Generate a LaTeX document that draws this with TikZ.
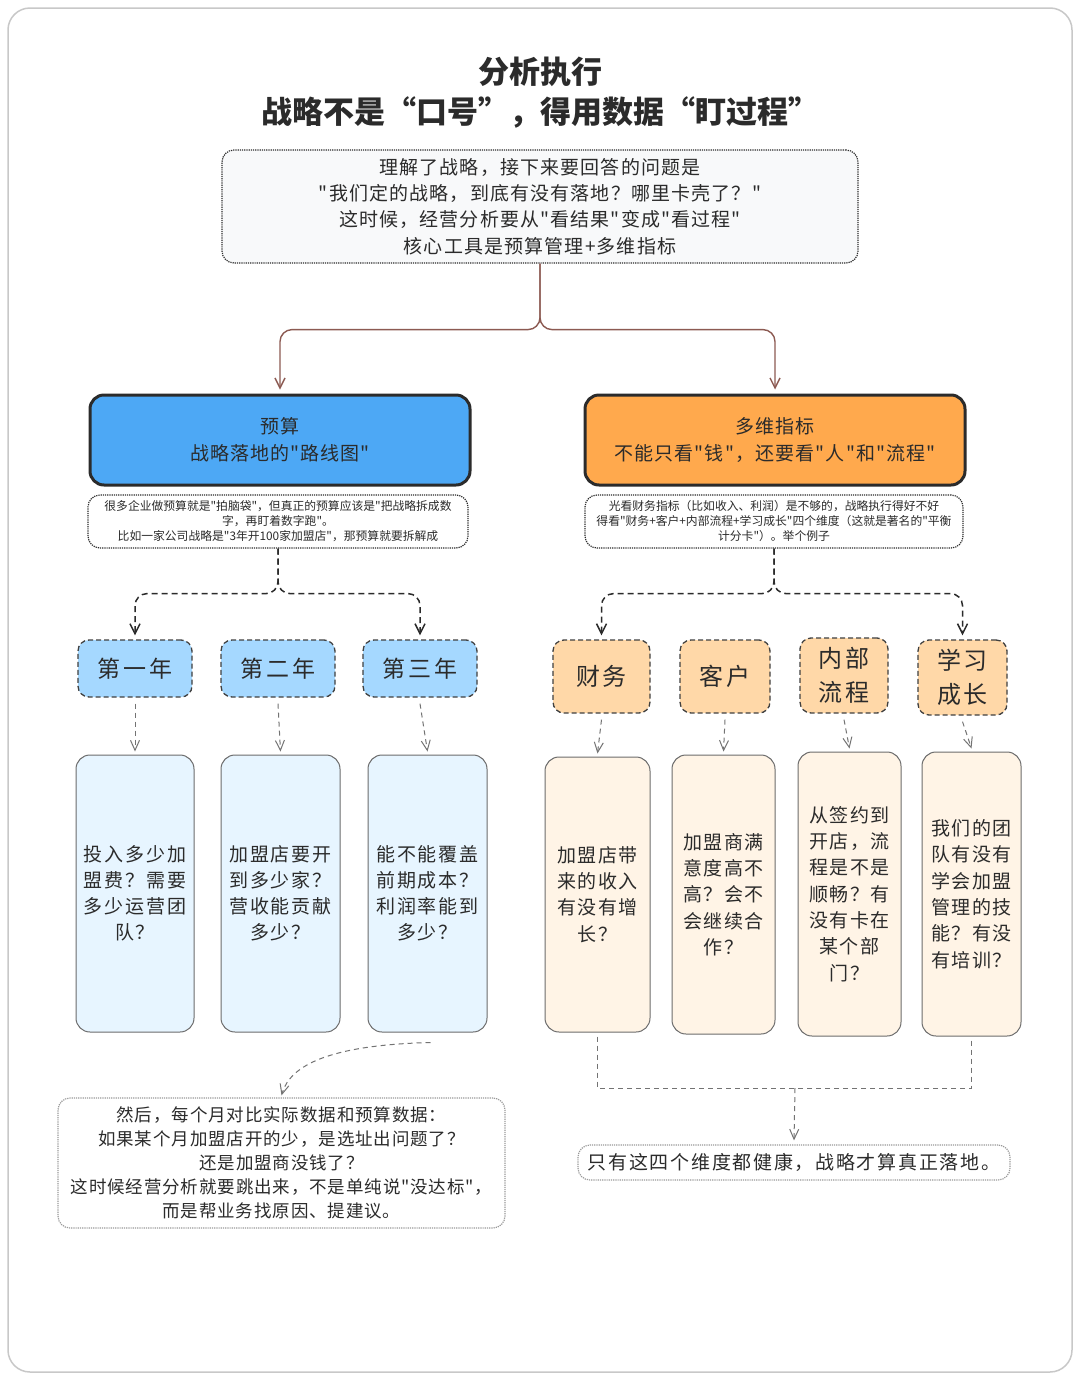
\documentclass[tikz,border=0pt]{standalone}
\usepackage{fontspec}
\newfontfamily\cjk{Noto Sans CJK SC}
\usetikzlibrary{arrows.meta,calc}
\definecolor{ink}{HTML}{2B2B2B}
\definecolor{brownc}{HTML}{8C5A52}
\definecolor{blueF}{HTML}{4DA8F5}
\definecolor{orangeF}{HTML}{FFA94D}
\definecolor{yearF}{HTML}{A5D8FF}
\definecolor{dimF}{HTML}{FFD8A8}
\definecolor{tallB}{HTML}{E7F5FF}
\definecolor{tallO}{HTML}{FFF4E6}
\definecolor{paleF}{HTML}{F8F9FA}
\definecolor{frameC}{HTML}{C8C8C8}
\newcommand\myfs[2]{\cjk\fontsize{#1}{#2}\selectfont}
\tikzset{
  txt/.style={text=ink, align=center, inner sep=0pt},
  dotbox/.style={txt, draw=ink, densely dotted, line width=1.2pt, rounded corners=12pt},
  bigbox/.style={txt, draw=ink, line width=3pt, rounded corners=14pt},
  catbox/.style={txt, draw=ink!90, dashed, dash pattern=on 5pt off 3pt, line width=1.3pt, rounded corners=11pt},
  tallbox/.style={txt, draw=gray!85!black, line width=1pt, rounded corners=14pt},
  brownarrow/.style={draw=brownc, line width=1.4pt, rounded corners=12pt, -{Straight Barb[length=10pt,width=10pt]}},
  dasharrow/.style={draw=ink, dash pattern=on 6pt off 4pt, line width=1.5pt, rounded corners=12pt, -{Straight Barb[length=10pt,width=10pt]}},
  thindash/.style={draw=gray!90!black, dash pattern=on 5pt off 4pt, line width=1pt, -{Straight Barb[length=10pt,width=9pt]}},
  plaindash/.style={draw=gray!90!black, dash pattern=on 5pt off 4pt, line width=1pt},
}
\begin{document}
\begin{tikzpicture}[x=1pt,y=-1pt]
\useasboundingbox (0,0) rectangle (1080,1379);
\fill[white] (0,0) rectangle (1080,1379);
\draw[frameC, line width=1.5pt, rounded corners=22pt] (8,8) rectangle (1072,1372);

% title
\node[txt, font=\myfs{31}{40}\bfseries] (title) at (540,93) {分析执行\\战略不是“口号”，得用数据“盯过程”};

% top box
\node[dotbox, fill=paleF, minimum width=636pt, minimum height=113pt, font=\myfs{19}{26.3}\addfontfeature{LetterSpace=6}] (top) at (540,206.5)
 {理解了战略，接下来要回答的问题是\\"我们定的战略，到底有没有落地？哪里卡壳了？"\\这时候，经营分析要从"看结果"变成"看过程"\\核心工具是预算管理+多维指标};

% main boxes
\node[bigbox, fill=blueF, minimum width=380pt, minimum height=90pt, font=\myfs{19}{27}\addfontfeature{LetterSpace=5}] (budget) at (280,440)
 {预算\\战略落地的"路线图"};
\node[bigbox, fill=orangeF, minimum width=380pt, minimum height=90pt, font=\myfs{19}{27}\addfontfeature{LetterSpace=6}] (metric) at (775,440)
 {多维指标\\不能只看"钱"，还要看"人"和"流程"};

% notes
\node[dotbox, fill=white, minimum width=380pt, minimum height=53pt, font=\myfs{11.8}{15}] (noteL) at (278,521.5)
 {很多企业做预算就是"拍脑袋"，但真正的预算应该是"把战略拆成数\\字，再盯着数字跑"。\\比如一家公司战略是"3年开100家加盟店"，那预算就要拆解成};
\node[dotbox, fill=white, minimum width=378pt, minimum height=53pt, font=\myfs{11.8}{15}] (noteR) at (774,521.5)
 {光看财务指标（比如收入、利润）是不够的，战略执行得好不好\\得看"财务+客户+内部流程+学习成长"四个维度（这就是著名的"平衡\\计分卡"）。举个例子};

% year boxes
\foreach \n/\x/\t in {y1/135/第一年, y2/278/第二年, y3/420/第三年}{
  \node[catbox, fill=yearF, minimum width=114pt, minimum height=57pt, font=\myfs{23}{30}\addfontfeature{LetterSpace=15}] (\n) at (\x,668.5) {\t};
}

% dimension boxes
\node[catbox, fill=dimF, minimum width=97pt, minimum height=73pt, font=\myfs{24}{34}\addfontfeature{LetterSpace=10}] (fin) at (601.5,676.5) {财务};
\node[catbox, fill=dimF, minimum width=90pt, minimum height=73pt, font=\myfs{24}{34}\addfontfeature{LetterSpace=10}] (cus) at (725,676.5) {客户};
\node[catbox, fill=dimF, minimum width=88pt, minimum height=75pt, font=\myfs{24}{34}\addfontfeature{LetterSpace=10}] (inn) at (844,675.5) {内部\\流程};
\node[catbox, fill=dimF, minimum width=89pt, minimum height=75pt, font=\myfs{24}{34}\addfontfeature{LetterSpace=10}] (lrn) at (962.5,677.5) {学习\\成长};

% tall boxes left
\node[tallbox, fill=tallB, minimum width=118pt, minimum height=277pt, font=\myfs{19}{26}\addfontfeature{LetterSpace=10}] (tL1) at (135,893.5) {投入多少加\\盟费？需要\\多少运营团\\队？};
\node[tallbox, fill=tallB, minimum width=119pt, minimum height=277pt, font=\myfs{19}{26}\addfontfeature{LetterSpace=10}] (tL2) at (280.5,893.5) {加盟店要开\\到多少家？\\营收能贡献\\多少？};
\node[tallbox, fill=tallB, minimum width=119pt, minimum height=277pt, font=\myfs{19}{26}\addfontfeature{LetterSpace=10}] (tL3) at (427.5,893.5) {能不能覆盖\\前期成本？\\利润率能到\\多少？};

% tall boxes right
\node[tallbox, fill=tallO, minimum width=105pt, minimum height=275pt, font=\myfs{19}{26.3}\addfontfeature{LetterSpace=8}] (tR1) at (597.5,894.5) {加盟店带\\来的收入\\有没有增\\长？};
\node[tallbox, fill=tallO, minimum width=103pt, minimum height=279pt, font=\myfs{19}{26.3}\addfontfeature{LetterSpace=8}] (tR2) at (723.5,894.5) {加盟商满\\意度高不\\高？会不\\会继续合\\作？};
\node[tallbox, fill=tallO, minimum width=103pt, minimum height=284pt, font=\myfs{19}{26.3}\addfontfeature{LetterSpace=8}] (tR3) at (849.5,894) {从签约到\\开店，流\\程是不是\\顺畅？有\\没有卡在\\某个部\\门？};
\node[tallbox, fill=tallO, minimum width=99pt, minimum height=284pt, font=\myfs{19}{26.3}\addfontfeature{LetterSpace=8}] (tR4) at (971.5,894) {我们的团\\队有没有\\学会加盟\\管理的技\\能？有没\\有培训？};

% bottom boxes
\node[dotbox, draw=gray!80, fill=white, minimum width=447pt, minimum height=130pt, font=\myfs{17.5}{24}\addfontfeature{LetterSpace=5}] (botL) at (281.5,1163)
 {然后，每个月对比实际数据和预算数据：\\如果某个月加盟店开的少，是选址出问题了？\\还是加盟商没钱了？\\这时候经营分析就要跳出来，不是单纯说"没达标"，\\而是帮业务找原因、提建议。};
\node[dotbox, draw=gray!80, fill=white, minimum width=432pt, minimum height=35pt, font=\myfs{19}{24}\addfontfeature{LetterSpace=9}] (botR) at (794,1162.5)
 {只有这四个维度都健康，战略才算真正落地。};

% connectors: top to main
\draw[brownarrow] (top.south) -- ++(0,66) -| ([yshift=4pt]budget.north);
\draw[brownarrow] (top.south) -- ++(0,66) -| ([yshift=4pt]metric.north);

% notes to categories
\draw[dasharrow] (noteL.south) -- ++(0,45) -| ([yshift=4pt]y1.north);
\draw[dasharrow] (noteL.south) -- ++(0,45) -| ([yshift=4pt]y3.north);
\draw[dasharrow] (noteR.south) -- ++(0,45) -| ([yshift=4pt]fin.north);
\draw[dasharrow] (noteR.south) -- ++(0,45) -| ([yshift=4pt]lrn.north);

% categories to tall boxes
\foreach \a/\b in {y1/tL1, y2/tL2, y3/tL3, fin/tR1, cus/tR2, inn/tR3, lrn/tR4}{
  \draw[thindash] ([yshift=-6pt]\a.south) -- ([yshift=3pt]\b.north);
}

% tL3 to bottom left
\draw[thindash] ([xshift=3pt,yshift=-10pt]tL3.south) .. controls (330,1045) and (290,1065) .. ([yshift=2pt]botL.north);

% right merge
\coordinate (jR) at (795,1088);
\draw[plaindash] ([yshift=-4pt]tR1.south) |- (jR);
\draw[plaindash] ([yshift=-4pt]tR4.south) |- (jR);
\draw[thindash] (jR) -- ([yshift=4pt]botR.north);
\end{tikzpicture}
\end{document}
